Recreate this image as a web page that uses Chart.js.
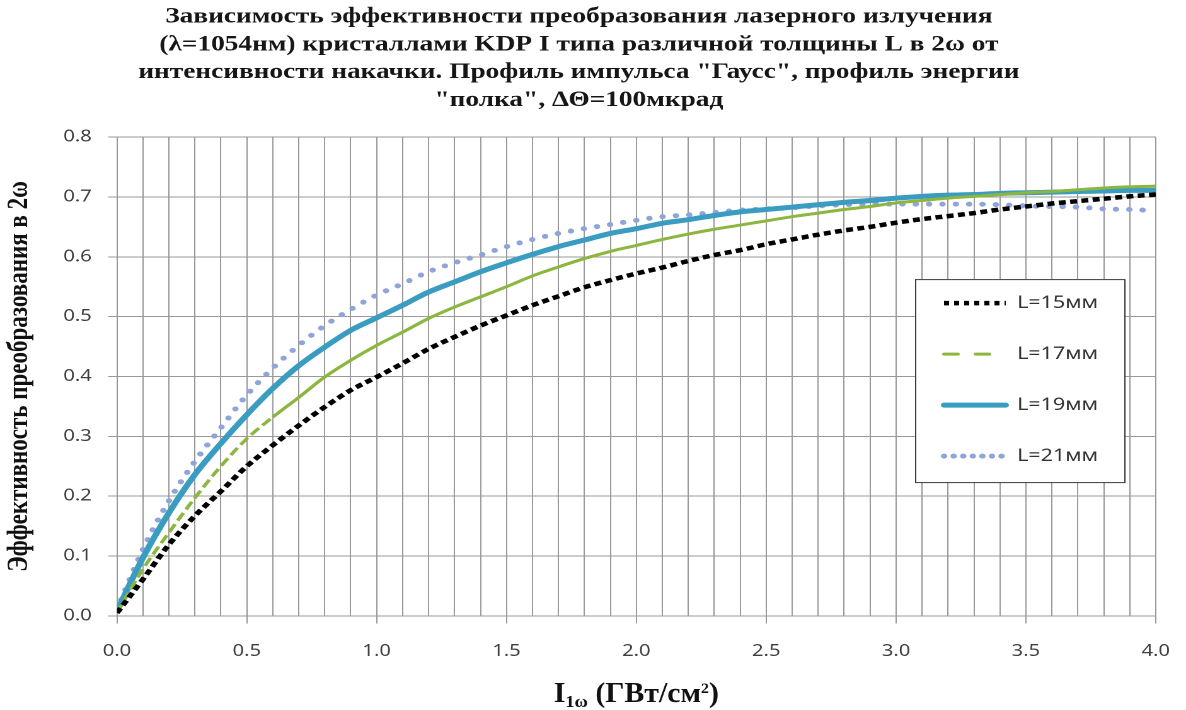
<!DOCTYPE html>
<html><head><meta charset="utf-8">
<script src="https://cdn.jsdelivr.net/npm/chart.js@4/dist/chart.umd.min.js"></script>
<style>html,body{margin:0;padding:0;background:#fff}#wrap{width:1186px;height:710px;overflow:hidden}
#c{width:1186px;height:710px;display:block}</style>
</head><body><div id="wrap"><canvas id="c" width="941" height="710" style="width:1186px;height:710px"></canvas></div>
<script>
const xValues = [0.0,0.1,0.2,0.3,0.4,0.5,0.6,0.7,0.8,0.9,1.0,1.1,1.2,1.3,1.4,1.5,1.6,1.7,1.8,1.9,2.0,
  2.1,2.2,2.3,2.4,2.5,2.6,2.7,2.8,2.9,3.0,3.1,3.2,3.3,3.4,3.5,3.6,3.7,3.8,3.9,4.0];
const L15 = [0.005,0.061,0.119,0.167,0.208,0.250,0.285,0.318,0.349,0.377,0.399,0.422,0.446,0.466,0.485,0.502,
  0.519,0.534,0.549,0.561,0.572,0.582,0.593,0.603,0.611,0.621,0.629,0.637,0.644,0.650,0.657,0.663,0.668,0.673,
  0.679,0.684,0.689,0.693,0.697,0.701,0.704];
const L17 = [0.005,0.078,0.139,0.197,0.250,0.296,0.332,0.365,0.399,0.427,0.452,0.474,0.497,0.516,0.533,0.550,
  0.568,0.583,0.597,0.609,0.619,0.629,0.638,0.646,0.653,0.660,0.667,0.673,0.679,0.684,0.690,0.694,0.698,0.701,
  0.704,0.707,0.709,0.712,0.715,0.717,0.718];
const L19 = [0.008,0.097,0.172,0.236,0.288,0.336,0.380,0.418,0.449,0.477,0.498,0.519,0.541,0.558,0.575,0.590,
  0.604,0.617,0.628,0.639,0.647,0.656,0.662,0.669,0.675,0.679,0.683,0.687,0.691,0.694,0.698,0.701,0.703,0.704,
  0.706,0.707,0.708,0.709,0.710,0.711,0.711];
const L21 = [0.010,0.111,0.192,0.258,0.314,0.369,0.414,0.452,0.485,0.512,0.536,0.555,0.575,0.590,0.603,0.617,
  0.629,0.639,0.647,0.654,0.661,0.667,0.670,0.674,0.678,0.680,0.682,0.685,0.687,0.688,0.688,0.688,0.688,0.688,
  0.687,0.685,0.684,0.683,0.680,0.679,0.677];
const seriesLabels = ['L=15мм','L=17мм','L=19мм','L=21мм'];
const titleLines = [
  'Зависимость эффективности преобразования лазерного излучения',
  '(λ=1054нм) кристаллами KDP I типа различной толщины L в 2ω от',
  'интенсивности накачки. Профиль импульса "Гаусс", профиль энергии',
  '"полка", ΔΘ=100мкрад'
];
const yTitle = 'Эффективность преобразования в 2ω';

const pts = arr => xValues.map((x, i) => ({x: x, y: arr[i]}));
const GRID = '#999999';
const SERIF = '"Liberation Serif", "DejaVu Serif", serif';
const SANS = '"Noto Sans", "Open Sans", sans-serif';

const datasets = [
  {label: seriesLabels[0], data: pts(L15), borderColor: '#000000', borderWidth: 4.5, borderDash: [5.5,3.5],
   borderCapStyle: 'butt', legendDash: [4,4]},
  {label: seriesLabels[1], data: pts(L17), borderColor: '#8db640', borderWidth: 3, borderDash: [9,4],
   borderCapStyle: 'butt', legendDash: [11,14], legendCap: 'round',
   segment: {borderDash: ctx => ctx.p0.parsed.x >= 0.6 ? [] : undefined}},
  {label: seriesLabels[2], data: pts(L19), borderColor: '#3a9cc0', borderWidth: 5, borderDash: [],
   borderCapStyle: 'round', legendDash: [], legendCap: 'round'},
  {label: seriesLabels[3], data: pts(L21), borderColor: '#8fa5d8', borderWidth: 5, borderDash: [0.1,10.5],
   borderCapStyle: 'round', legendDash: [0.1,7.5], legendCap: 'round'}
];
datasets.forEach(d => { d.pointRadius = 0; d.fill = false; d.cubicInterpolationMode = 'monotone'; });

const isMajor = v => Math.abs(v * 2 - Math.round(v * 2)) < 1e-6;

const legendPlugin = {
  id: 'boxLegend',
  afterDraw(chart) {
    const ctx = chart.ctx, ca = chart.chartArea;
    const bw = 166, bh = 203;
    const bx = ca.right - 191, by = ca.top + 142;
    ctx.save();
    ctx.fillStyle = '#ffffff';
    ctx.fillRect(bx, by, bw, bh);
    ctx.strokeStyle = '#3a3a3a'; ctx.lineWidth = 1;
    ctx.strokeRect(bx + 0.5, by + 0.5, bw, bh);
    chart.data.datasets.forEach((d, i) => {
      const yy = by + 24 + i * 51;
      ctx.beginPath();
      ctx.strokeStyle = d.borderColor;
      ctx.lineWidth = d.borderWidth;
      ctx.lineCap = d.legendCap || d.borderCapStyle;
      ctx.setLineDash(d.legendDash);
      ctx.moveTo(bx + 23, yy); ctx.lineTo(bx + 72, yy);
      ctx.stroke();
      ctx.setLineDash([]);
      ctx.fillStyle = '#333333';
      ctx.font = '17px ' + SANS;
      ctx.textBaseline = 'middle'; ctx.textAlign = 'left';
      ctx.fillText(d.label, bx + 81, yy);
    });
    ctx.restore();
  }
};

const xTitlePlugin = {
  id: 'xTitle',
  afterDraw(chart) {
    const ctx = chart.ctx, ca = chart.chartArea;
    const big = 'bold 28px ' + SERIF, sub = 'bold 17px ' + SERIF, sup = 'bold 15px ' + SERIF;
    const parts = [
      {t: 'I', f: big, dy: 0},
      {t: '1ω', f: sub, dy: 5},
      {t: ' (ГВт/см', f: big, dy: 0},
      {t: '2', f: sup, dy: -9},
      {t: ')', f: big, dy: 0}
    ];
    ctx.save();
    let total = 0;
    parts.forEach(p => { ctx.font = p.f; p.w = ctx.measureText(p.t).width; total += p.w; });
    const targetW = 131;
    const sx = Math.min(1, targetW / total);
    const cx = (ca.left + ca.right) / 2;
    ctx.translate(cx - targetW / 2, 702);
    ctx.scale(sx, 1);
    let x = 0;
    ctx.fillStyle = '#111111'; ctx.textBaseline = 'alphabetic'; ctx.textAlign = 'left';
    parts.forEach(p => { ctx.font = p.f; ctx.fillText(p.t, x, p.dy); x += p.w; });
    ctx.restore();
  }
};

new Chart(document.getElementById('c'), {
  type: 'line',
  data: {datasets: datasets},
  options: {
    responsive: false, devicePixelRatio: 2, animation: false,
    layout: {padding: {left: 1.6, right: 24, top: 0, bottom: 49}},
    plugins: {
      legend: {display: false},
      tooltip: {enabled: false},
      title: {display: true, text: titleLines, color: '#161616',
        font: {family: SERIF, size: 21.7, weight: 'bold', lineHeight: 1.28}, padding: {top: 3, bottom: 23}}
    },
    scales: {
      x: {type: 'linear', min: 0, max: 4,
        grid: {color: GRID, lineWidth: 1, tickLength: 26, tickBorderDash: [7, 100],
          tickColor: c => (c.tick && isMajor(c.tick.value)) ? GRID : 'rgba(0,0,0,0)'},
        border: {color: GRID, width: 1},
        ticks: {stepSize: 0.1, autoSkip: false, maxRotation: 0, padding: 0, color: '#404040',
          font: {family: SANS, size: 16},
          callback: v => isMajor(v) ? v.toFixed(1) : ''}
      },
      y: {min: 0, max: 0.8,
        grid: {color: GRID, lineWidth: 1, tickLength: 7},
        border: {color: GRID, width: 1},
        ticks: {stepSize: 0.1, padding: 13, color: '#404040', font: {family: SANS, size: 16},
          callback: v => v.toFixed(1)},
        title: {display: true, text: yTitle, color: '#111111', padding: {top: 0, bottom: 8},
          font: {family: SERIF, size: 23, weight: 'bold'}}
      }
    }
  },
  plugins: [legendPlugin, xTitlePlugin]
});
</script></body></html>
